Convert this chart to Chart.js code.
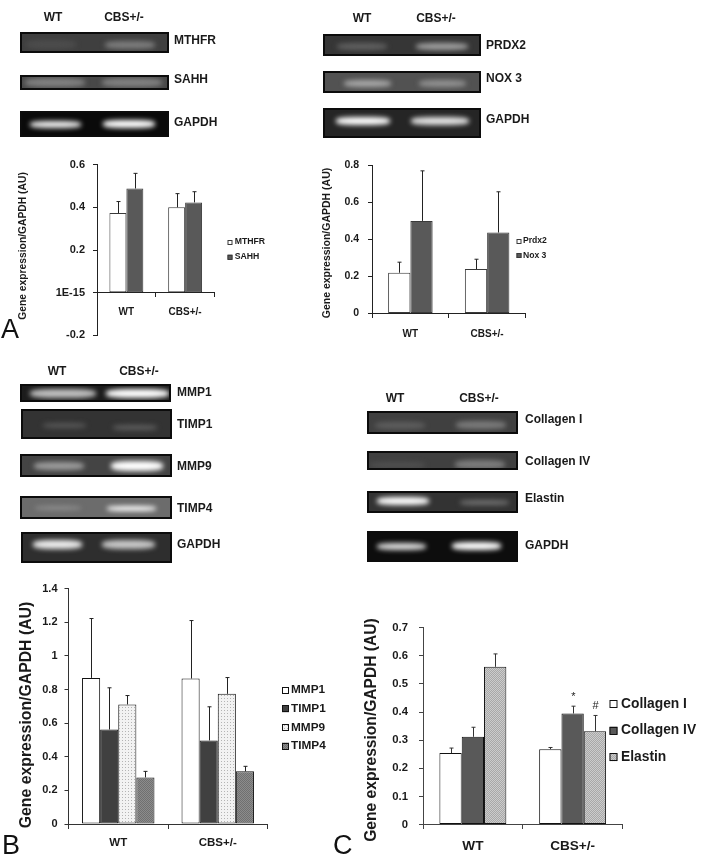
<!DOCTYPE html>
<html>
<head>
<meta charset="utf-8">
<script src="https://cdn.jsdelivr.net/npm/chart.js@4"></script>
<style>
  html, body { margin: 0; padding: 0; background: #fff; overflow: hidden; }
  #page { position: relative; width: 705px; height: 857px; overflow: hidden; filter: blur(0.35px); font-family: "Liberation Sans", Arial, sans-serif; color: #1a1a1a; }
  #page canvas { position: absolute; }
  .gel { position: absolute; box-sizing: border-box; border: 2px solid #0c0c0c; overflow: hidden; }
  .band { position: absolute; border-radius: 35%; filter: blur(2.4px); }
  .lab { position: absolute; font-weight: bold; font-size: 12px; line-height: 14px; white-space: nowrap; }
  .hdr { transform: translateX(-50%); }
  .letter { position: absolute; font-size: 27px; line-height: 27px; color: #111; }
</style>
</head>
<body>
<div id="page"></div>
<script>
const categories = ['WT', 'CBS+/-'];

// panel A, left chart
const mthfr = [0.373, 0.40];
const mthfrTop = [0.427, 0.464];
const sahh = [0.488, 0.423];
const sahhTop = [0.559, 0.473];
const ticksA = ['-0.2', '1E-15', '0.2', '0.4', '0.6'];

// panel A, right chart
const prdx2 = [0.22, 0.24];
const prdx2Top = [0.277, 0.293];
const nox3 = [0.50, 0.437];
const nox3Top = [0.77, 0.657];
const ticksA2 = ['0', '0.2', '0.4', '0.6', '0.8'];

// panel B
const mmp1 = [0.869, 0.865];
const mmp1Top = [1.222, 1.21];
const timp1 = [0.562, 0.497];
const timp1Top = [0.81, 0.697];
const mmp9 = [0.711, 0.774];
const mmp9Top = [0.764, 0.871];
const timp4 = [0.277, 0.313];
const timp4Top = [0.313, 0.343];
const ticksB = ['0', '0.2', '0.4', '0.6', '0.8', '1', '1.2', '1.4'];

// panel C
const collagen1 = [0.254, 0.268];
const collagen1Top = [0.272, 0.274];
const collagen4 = [0.312, 0.395];
const collagen4Top = [0.346, 0.421];
const elastin = [0.561, 0.332];
const elastinTop = [0.607, 0.388];
const ticksC = ['0', '0.1', '0.2', '0.3', '0.4', '0.5', '0.6', '0.7'];

const yTitle = 'Gene expression/GAPDH (AU)';

// gel strips: x, y, w, h, background, bands [x, cy, w, h, colour]
const gels = [
  [20, 32, 149, 21, '#3f3f3f', [[26, 44, 50, 9, '#4c4c4c'], [105, 45, 50, 8, '#7c7c7c']]],
  [20, 75, 149, 15, '#484848', [[25, 82, 60, 9, '#808080'], [102, 82, 60, 9, '#808080']]],
  [20, 111, 149, 26, '#0a0a0a', [[30, 124, 51, 7, '#f0f0f0'], [103, 124, 52, 8, '#ffffff']]],
  [323, 34, 158, 22, '#363636', [[337, 46, 50, 7, '#606060'], [416, 46, 52, 7, '#a0a0a0']]],
  [323, 71, 158, 22, '#525252', [[344, 83, 47, 7, '#a8a8a8'], [419, 83, 47, 7, '#929292']]],
  [323, 108, 158, 30, '#252525', [[336, 121, 54, 8, '#ffffff'], [411, 121, 58, 8, '#e4e4e4']]],
  [20, 384, 151, 18, '#1c1c1c', [[30, 393, 66, 9, '#c0c0c0'], [106, 393, 63, 9, '#ffffff']]],
  [21, 409, 151, 30, '#333333', [[43, 425, 43, 5, '#585858'], [113, 427, 44, 5, '#5e5e5e']]],
  [20, 454, 152, 23, '#444444', [[34, 466, 50, 8, '#9c9c9c'], [111, 466, 52, 10, '#ffffff']]],
  [20, 496, 152, 23, '#6c6c6c', [[35, 508, 46, 4, '#909090'], [107, 508, 49, 5, '#ffffff']]],
  [21, 532, 151, 31, '#2e2e2e', [[33, 544, 49, 9, '#ececec'], [102, 544, 53, 9, '#c8c8c8']]],
  [367, 411, 151, 23, '#404040', [[375, 425, 50, 7, '#5e5e5e'], [456, 425, 50, 8, '#7a7a7a']]],
  [367, 451, 151, 19, '#404040', [[370, 465, 55, 6, '#505050'], [455, 464, 50, 9, '#7c7c7c']]],
  [367, 491, 151, 22, '#333333', [[377, 501, 52, 8, '#ffffff'], [460, 502, 49, 5, '#727272']]],
  [367, 531, 151, 31, '#0d0d0d', [[377, 546, 49, 7, '#dcdcdc'], [452, 546, 49, 8, '#ffffff']]]
];

// text around the gels: text, x, centre y, centred header or not
const gelLabels = [
  ['WT', 53, 17, 1], ['CBS+/-', 124, 17, 1], ['MTHFR', 174, 40], ['SAHH', 174, 79], ['GAPDH', 174, 122],
  ['WT', 362, 18, 1], ['CBS+/-', 436, 18, 1], ['PRDX2', 486, 45], ['NOX 3', 486, 78], ['GAPDH', 486, 119],
  ['WT', 57, 371, 1], ['CBS+/-', 139, 371, 1], ['MMP1', 177, 392], ['TIMP1', 177, 424], ['MMP9', 177, 466], ['TIMP4', 177, 508], ['GAPDH', 177, 544],
  ['WT', 395, 398, 1], ['CBS+/-', 479, 398, 1], ['Collagen I', 525, 419], ['Collagen IV', 525, 461], ['Elastin', 525, 498], ['GAPDH', 525, 545]
];
const letters = [['A', 1, 316], ['B', 2, 832], ['C', 333, 832]];

const page = document.getElementById('page');

gels.forEach(([x, y, w, h, bg, bands]) => {
  const gel = document.createElement('div');
  gel.className = 'gel';
  gel.style.cssText = `left:${x}px;top:${y}px;width:${w}px;height:${h}px;background:${bg}`;
  bands.forEach(([bx, cy, bw, bh, col]) => {
    const band = document.createElement('div');
    band.className = 'band';
    band.style.cssText = `left:${bx - x - 2}px;top:${cy - bh / 2 - y - 2}px;width:${bw}px;height:${bh}px;background:${col}`;
    gel.appendChild(band);
  });
  page.appendChild(gel);
});

gelLabels.forEach(([text, x, y, centred]) => {
  const el = document.createElement('div');
  el.className = centred ? 'lab hdr' : 'lab';
  el.textContent = text;
  el.style.left = x + 'px';
  el.style.top = (y - 7) + 'px';
  page.appendChild(el);
});

letters.forEach(([text, x, y]) => {
  const el = document.createElement('div');
  el.className = 'letter';
  el.textContent = text;
  el.style.left = x + 'px';
  el.style.top = y + 'px';
  page.appendChild(el);
});

function tile(size, paint) {
  const c = document.createElement('canvas');
  c.width = c.height = size;
  paint(c.getContext('2d'));
  return c.getContext('2d').createPattern(c, 'repeat');
}

const dotted = tile(3, (ctx) => {
  ctx.fillStyle = '#f2f2f2';
  ctx.fillRect(0, 0, 3, 3);
  ctx.fillStyle = '#b4b4b4';
  ctx.fillRect(0, 0, 1, 1);
});
const checker = tile(2, (ctx) => {
  ctx.fillStyle = '#8c8c8c';
  ctx.fillRect(0, 0, 2, 2);
  ctx.fillStyle = '#707070';
  ctx.fillRect(0, 0, 1, 1);
  ctx.fillRect(1, 1, 1, 1);
});
const hatched = tile(2, (ctx) => {
  ctx.fillStyle = '#cccccc';
  ctx.fillRect(0, 0, 2, 2);
  ctx.fillStyle = '#a8a8a8';
  ctx.fillRect(0, 0, 1, 1);
  ctx.fillRect(1, 1, 1, 1);
});

// error bars, stars, legend and rotated title, all placed from the panel settings
const panelExtras = {
  id: 'panelExtras',
  afterDatasetsDraw(chart, args, opts) {
    const { ctx, scales } = chart;
    ctx.save();
    ctx.strokeStyle = opts.errColor;
    ctx.lineWidth = 1;
    chart.data.datasets.forEach((ds, i) => {
      chart.getDatasetMeta(i).data.forEach((bar, j) => {
        const top = scales.y.getPixelForValue(ds.errTop[j]);
        const x = Math.round(bar.x) + 0.5;
        ctx.beginPath();
        ctx.moveTo(x, bar.y);
        ctx.lineTo(x, top);
        ctx.moveTo(x - 2, top);
        ctx.lineTo(x + 2, top);
        ctx.stroke();
        if (ds.marks && ds.marks[j]) {
          ctx.fillStyle = '#222';
          ctx.font = '11px "Liberation Sans"';
          ctx.textAlign = 'center';
          ctx.textBaseline = 'bottom';
          ctx.fillText(ds.marks[j], x, top - 4);
        }
      });
    });
    ctx.restore();
  },
  afterDraw(chart, args, opts) {
    const { ctx } = chart;
    ctx.save();
    ctx.font = `bold ${opts.legendSize}px "Liberation Sans"`;
    ctx.textAlign = 'left';
    ctx.textBaseline = 'middle';
    chart.data.datasets.forEach((ds, i) => {
      const y = opts.legendY + i * opts.legendRow;
      ctx.fillStyle = ds.backgroundColor;
      ctx.fillRect(opts.legendX, y - opts.legendBox / 2, opts.legendBox, opts.legendBox);
      ctx.strokeStyle = ds.borderColor;
      ctx.lineWidth = 1;
      ctx.strokeRect(opts.legendX + 0.5, Math.round(y - opts.legendBox / 2) + 0.5, opts.legendBox - 1, opts.legendBox - 1);
      ctx.fillStyle = '#1a1a1a';
      ctx.fillText(ds.label, opts.legendTextX, y);
    });
    ctx.translate(opts.titleX, opts.titleY);
    ctx.rotate(-Math.PI / 2);
    ctx.font = `bold ${opts.titleSize}px "Liberation Sans"`;
    ctx.textAlign = 'center';
    ctx.fillText(yTitle, 0, 0);
    ctx.restore();
  }
};

function addChart(cfg) {
  const [left, top, width, height] = cfg.box;
  const [pl, pt, pr, pb] = cfg.plot;
  const canvas = document.createElement('canvas');
  canvas.width = width;
  canvas.height = height;
  canvas.style.cssText = `left:${left}px;top:${top}px;width:${width}px;height:${height}px`;
  page.appendChild(canvas);

  return new Chart(canvas.getContext('2d'), {
    type: 'bar',
    data: {
      labels: categories,
      datasets: cfg.series.map((s) => ({
        label: s.label,
        data: s.data,
        errTop: s.errTop,
        marks: s.marks,
        backgroundColor: s.fill,
        borderColor: cfg.barBorder,
        borderWidth: 1,
        borderSkipped: false,
        barPercentage: 1,
        categoryPercentage: cfg.groupShare
      }))
    },
    plugins: [panelExtras],
    options: {
      responsive: false,
      animation: false,
      layout: {
        autoPadding: false,
        padding: { left: 0, top: pt - top, right: left + width - pr, bottom: top + height - pb }
      },
      scales: {
        x: {
          position: { y: 0 },
          grid: { drawOnChartArea: false, offset: true, tickLength: 4, color: cfg.axisColor, tickColor: cfg.axisColor },
          border: { color: cfg.axisColor, width: 1 },
          ticks: {
            padding: cfg.xPad,
            maxRotation: 0,
            color: '#1a1a1a',
            font: { family: '"Liberation Sans"', weight: 'bold', size: cfg.xSize }
          }
        },
        y: {
          min: cfg.min,
          max: cfg.max,
          afterFit: (scale) => { scale.width = pl - left; },
          grid: { drawOnChartArea: false, tickLength: 4, color: cfg.axisColor, tickColor: cfg.axisColor },
          border: { color: cfg.axisColor, width: 1 },
          ticks: {
            stepSize: cfg.step,
            autoSkip: false,
            padding: cfg.yPad,
            color: '#1a1a1a',
            font: { family: '"Liberation Sans"', weight: 'bold', size: cfg.ySize },
            callback: (value, index) => cfg.tickLabels[index]
          }
        }
      },
      plugins: {
        tooltip: { enabled: false },
        legend: { display: false },
        panelExtras: {
          legendX: cfg.legend.x - left,
          legendTextX: cfg.legend.textX - left,
          legendY: cfg.legend.y - top,
          legendBox: cfg.legend.box,
          legendSize: cfg.legend.size,
          legendRow: cfg.legend.row,
          errColor: cfg.errColor,
          titleX: cfg.title.x - left,
          titleY: cfg.title.y - top,
          titleSize: cfg.title.size
        }
      }
    }
  });
}

addChart({
  box: [10, 150, 290, 200],
  plot: [97, 161.5, 214.5, 337],
  min: -0.2, max: 0.6, step: 0.2,
  tickLabels: ticksA,
  groupShare: 0.577,
  barBorder: '#3a3a3a', axisColor: '#222', errColor: '#222',
  xPad: 10, xSize: 10, yPad: 8, ySize: 11,
  title: { x: 23, y: 246, size: 10.3 },
  legend: { x: 227.5, textX: 234.7, y: 242, box: 5, size: 8.7, row: 15 },
  series: [
    { label: 'MTHFR', data: mthfr, errTop: mthfrTop, fill: '#ffffff' },
    { label: 'SAHH', data: sahh, errTop: sahhTop, fill: '#595959' }
  ]
});

addChart({
  box: [310, 150, 270, 200],
  plot: [372, 160.5, 525.5, 313.5],
  min: 0, max: 0.8, step: 0.2,
  tickLabels: ticksA2,
  groupShare: 0.58,
  barBorder: '#3a3a3a', axisColor: '#222', errColor: '#222',
  xPad: 11, xSize: 10, yPad: 9, ySize: 10.5,
  title: { x: 327, y: 243, size: 10.5 },
  legend: { x: 516.5, textX: 523, y: 241, box: 5, size: 8.6, row: 14.5 },
  series: [
    { label: 'Prdx2', data: prdx2, errTop: prdx2Top, fill: '#ffffff' },
    { label: 'Nox 3', data: nox3, errTop: nox3Top, fill: '#595959' }
  ]
});

addChart({
  box: [5, 575, 335, 282],
  plot: [68.5, 588.5, 267.5, 824],
  min: 0, max: 1.4, step: 0.2,
  tickLabels: ticksB,
  groupShare: 0.728,
  barBorder: '#111', axisColor: '#333', errColor: '#222',
  xPad: 8, xSize: 11.5, yPad: 7, ySize: 11,
  title: { x: 27, y: 715, size: 15.8 },
  legend: { x: 282, textX: 291, y: 690, box: 7, size: 11.8, row: 18.7 },
  series: [
    { label: 'MMP1', data: mmp1, errTop: mmp1Top, fill: '#ffffff' },
    { label: 'TIMP1', data: timp1, errTop: timp1Top, fill: '#404040' },
    { label: 'MMP9', data: mmp9, errTop: mmp9Top, fill: dotted },
    { label: 'TIMP4', data: timp4, errTop: timp4Top, fill: checker }
  ]
});

addChart({
  box: [355, 610, 350, 247],
  plot: [423, 626, 622.5, 824.5],
  min: 0, max: 0.7, step: 0.1,
  tickLabels: ticksC,
  groupShare: 0.671,
  barBorder: '#111', axisColor: '#444', errColor: '#333',
  xPad: 10, xSize: 13.6, yPad: 11, ySize: 11.3,
  title: { x: 372, y: 730, size: 15.6 },
  legend: { x: 609.5, textX: 621, y: 704, box: 8, size: 13.8, row: 26.6 },
  series: [
    { label: 'Collagen I', data: collagen1, errTop: collagen1Top, fill: '#ffffff' },
    { label: 'Collagen IV', data: collagen4, errTop: collagen4Top, fill: '#595959', marks: ['', '*'] },
    { label: 'Elastin', data: elastin, errTop: elastinTop, fill: hatched, marks: ['', '#'] }
  ]
});
</script>
</body>
</html>
